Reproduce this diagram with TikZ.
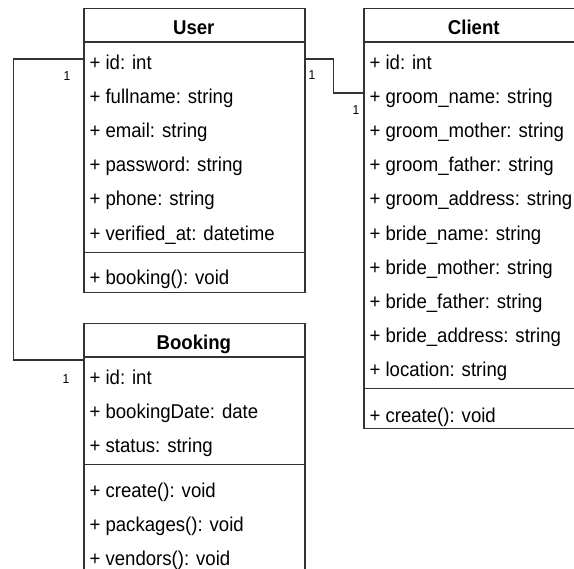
\documentclass[tikz,border=0pt]{standalone}
\usepackage{fontspec}
\setmainfont[FakeStretch=0.93]{Liberation Sans}
\definecolor{ln}{HTML}{333333}
\newcommand\myattrfont{\fontsize{20}{23}\selectfont\spaceskip=0.26em plus 0pt minus 0pt\relax}
\begin{document}
\begin{tikzpicture}[x=1pt,y=-1pt]
\tikzset{
 classbox/.style={draw=ln, line width=1.2pt, fill=white, anchor=north west, inner sep=0pt, minimum width=221pt},
 attr/.style={anchor=base west, inner sep=0pt, font=\myattrfont, text=black},
 ttl/.style={anchor=base, inner sep=0pt, font=\fontsize{20}{23}\selectfont\bfseries, text=black},
 mult/.style={inner sep=0pt, font=\fontsize{13}{15}\selectfont, text=black},
 conn/.style={draw=ln, line width=1.2pt},
 sepline/.style={draw=ln, line width=1.2pt}
}
\useasboundingbox (0,0) rectangle (574,569);
\clip (0,0) rectangle (574,569);

% ---------- User ----------
\node[classbox, minimum height=283.7pt] (user) at (83.3,8) {};
\draw[sepline] (83.3,42) -- (304.3,42);
\draw[sepline] (83.3,252.2) -- (304.3,252.2);
\node[ttl] (userT) at (193.8,35) {User};
\foreach \t [count=\i from 0] in {{+ id: int},{+ fullname: string},{+ email: string},{+ password: string},{+ phone: string},{+ verified\_at: datetime}}
  \node[attr] (u\i) at (89.3,{42+34.15*\i+27.3}) {\t};
\node[attr] (um) at (89.3,284.9) {+ booking(): void};

% ---------- Client ----------
\node[classbox, minimum height=420.3pt] (client) at (363.3,8) {};
\draw[sepline] (363.3,42) -- (584.3,42);
\draw[sepline] (363.3,388.8) -- (584.3,388.8);
\node[ttl] (clientT) at (473.8,35) {Client};
\foreach \t [count=\i from 0] in {{+ id: int},{+ groom\_name: string},{+ groom\_mother: string},{+ groom\_father: string},{+ groom\_address: string},{+ bride\_name: string},{+ bride\_mother: string},{+ bride\_father: string},{+ bride\_address: string},{+ location: string}}
  \node[attr] (c\i) at (369.3,{42+34.15*\i+27.3}) {\t};
\node[attr] (cm) at (369.3,422.3) {+ create(): void};

% ---------- Booking ----------
\node[classbox, minimum height=249.6pt] (booking) at (83.3,323) {};
\draw[sepline] (83.3,357) -- (304.3,357);
\draw[sepline] (83.3,464.8) -- (304.3,464.8);
\node[ttl] (bookT) at (193.8,350) {Booking};
\foreach \t [count=\i from 0] in {{+ id: int},{+ bookingDate: date},{+ status: string}}
  \node[attr] (b\i) at (89.3,{357+34.15*\i+27.3}) {\t};
\foreach \t [count=\i from 0] in {{+ create(): void},{+ packages(): void},{+ vendors(): void}}
  \node[attr] (bm\i) at (89.3,{470.1+34.15*\i+27.3}) {\t};

% ---------- connectors ----------
\coordinate (userL) at (83.3,59);
\coordinate (bookL) at (83.3,360);
\coordinate (userR) at (304.3,59);
\coordinate (clientL) at (363.3,93);
\draw[conn] (userL) -- ++(-69.5,0) |- (bookL);
\draw[conn] (userR) -- ++(29,0) |- (clientL);

\node[mult] (m1) at (67,76) {1};
\node[mult] (m2) at (66,379) {1};
\node[mult] (m3) at (312,75) {1};
\node[mult] (m4) at (356,110) {1};
\end{tikzpicture}
\end{document}
